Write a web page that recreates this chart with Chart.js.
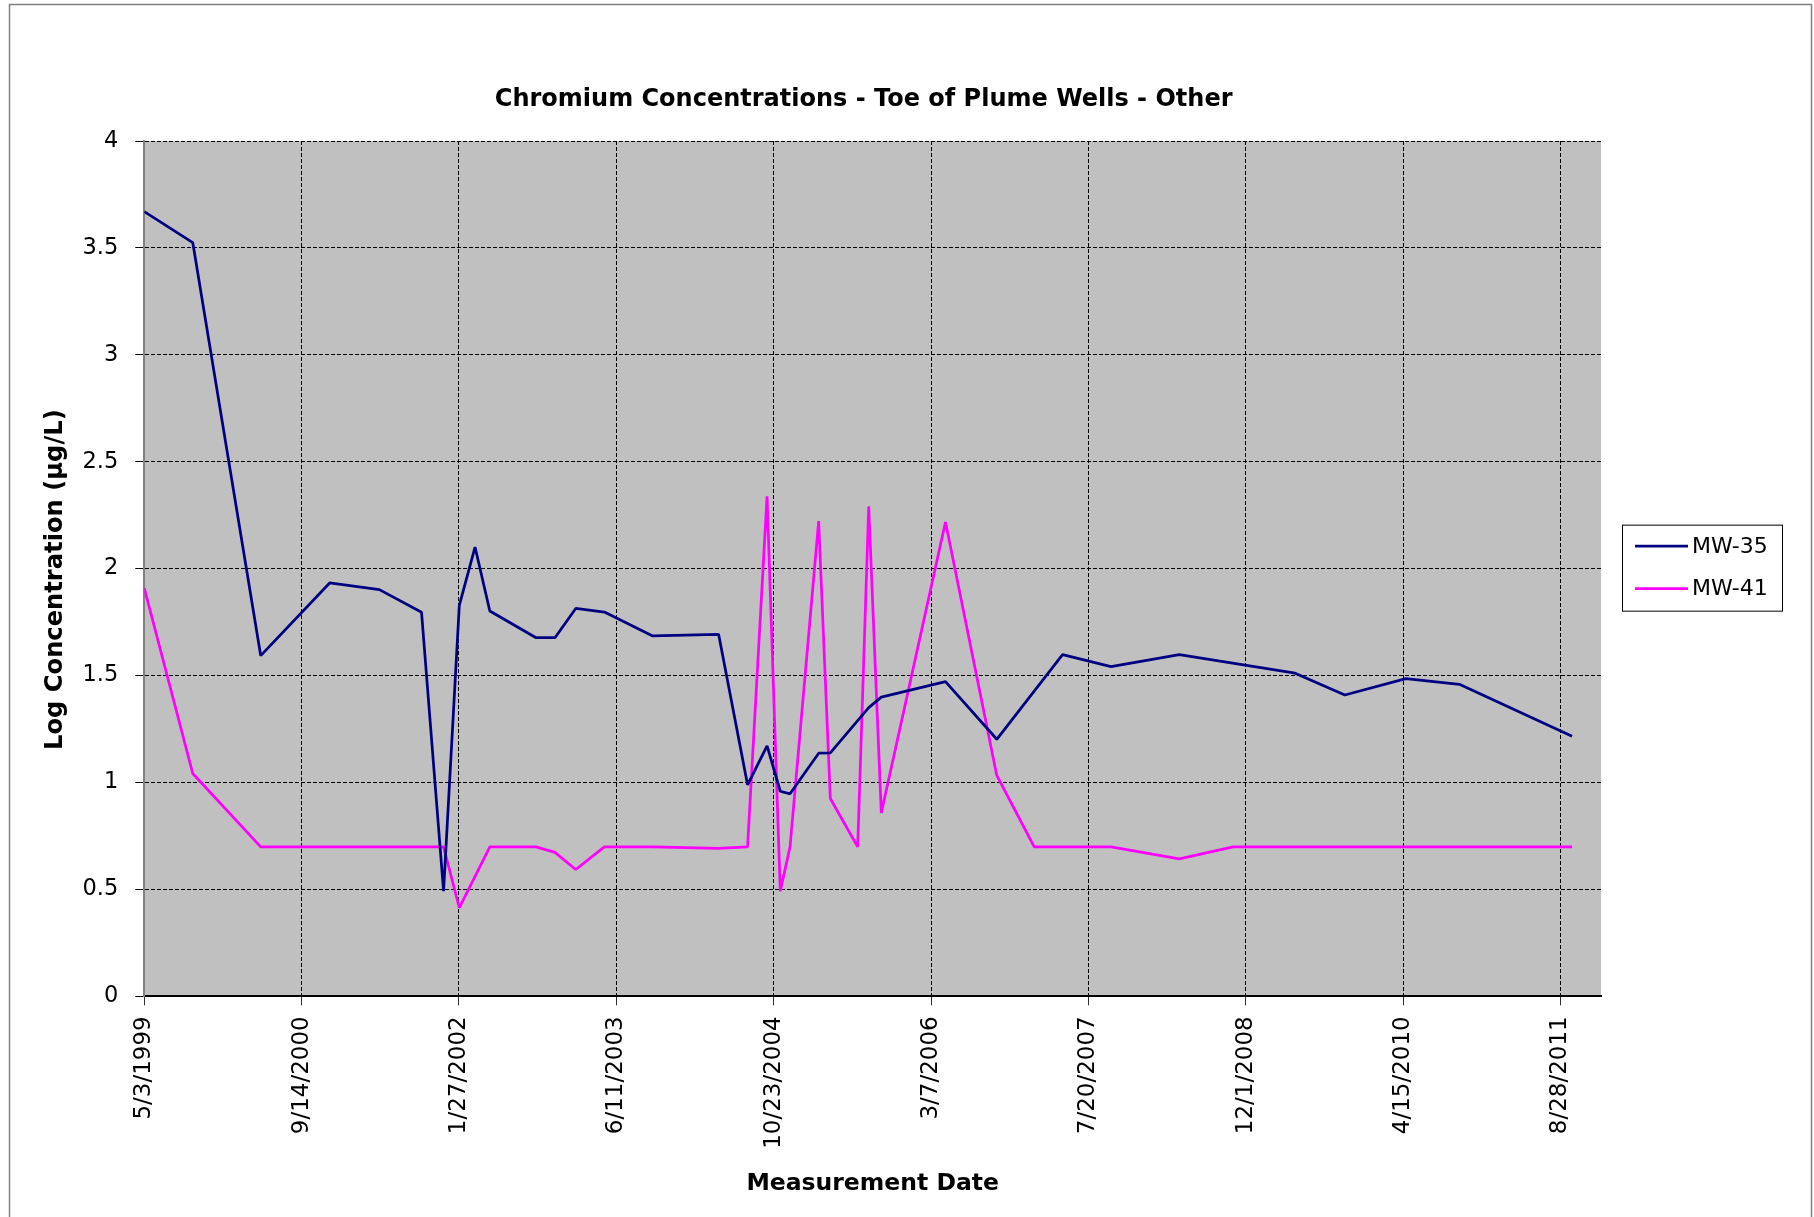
<!DOCTYPE html>
<html>
<head>
<meta charset="utf-8">
<title>Chromium Concentrations - Toe of Plume Wells - Other</title>
<script src="https://cdn.jsdelivr.net/npm/chart.js@4.4.1/dist/chart.umd.min.js"></script>
<style>
  html, body { margin: 0; padding: 0; background: #ffffff; }
  #wrap { position: relative; width: 1814px; height: 1217px; }
</style>
</head>
<body>
<div id="wrap"><canvas id="chart"></canvas></div>
<script>
// ---- Data -------------------------------------------------------------
const chartTitle = 'Chromium Concentrations - Toe of Plume Wells - Other';
const xAxisTitle = 'Measurement Date';
const yAxisTitle = 'Log Concentration (µg/L)';
const seriesNames = ['MW-35', 'MW-41'];

// Date axis tick labels (every 500 days) and the axis end date
const dateTicks = ['5/3/1999', '9/14/2000', '1/27/2002', '6/11/2003', '10/23/2004',
                   '3/7/2006', '7/20/2007', '12/1/2008', '4/15/2010', '8/28/2011'];
const xAxisEnd = '1/4/2012';
const yTicks = [0, 0.5, 1, 1.5, 2, 2.5, 3, 3.5, 4];

const mw35Dates = ['5/3/1999', '10/4/1999', '5/7/2000', '12/12/2000', '5/19/2001', '9/30/2001',
  '12/9/2001', '1/28/2002', '3/19/2002', '5/5/2002', '9/29/2002', '11/28/2002', '2/2/2003',
  '5/4/2003', '10/3/2003', '5/1/2004', '8/1/2004', '10/2/2004', '11/13/2004', '12/14/2004',
  '3/15/2005', '4/21/2005', '8/21/2005', '9/30/2005', '4/22/2006', '10/2/2006', '4/29/2007',
  '9/30/2007', '5/4/2008', '5/7/2009', '10/12/2009', '4/24/2010', '10/11/2010', '10/4/2011'];
const mw35Values = [3.67, 3.525, 1.593, 1.933, 1.902, 1.796,
  0.492, 1.828, 2.101, 1.802, 1.677, 1.677, 1.814,
  1.797, 1.686, 1.693, 0.989, 1.171, 0.959, 0.947,
  1.137, 1.138, 1.350, 1.399, 1.472, 1.202, 1.598,
  1.542, 1.598, 1.511, 1.409, 1.486, 1.459, 1.216];

const mw41Dates = ['5/3/1999', '10/4/1999', '5/7/2000', '12/12/2000', '5/19/2001', '9/30/2001',
  '12/9/2001', '1/28/2002', '5/5/2002', '9/29/2002', '11/28/2002', '2/2/2003', '5/4/2003',
  '10/3/2003', '5/1/2004', '8/1/2004', '10/2/2004', '11/13/2004', '12/14/2004', '3/15/2005',
  '4/21/2005', '7/17/2005', '8/21/2005', '9/30/2005', '4/22/2006', '10/2/2006', '1/29/2007',
  '4/29/2007', '9/30/2007', '5/4/2008', '10/22/2008', '5/7/2009', '10/12/2009', '4/24/2010',
  '10/11/2010', '10/4/2011'];
const mw41Values = [1.909, 1.042, 0.699, 0.699, 0.699, 0.699,
  0.699, 0.414, 0.699, 0.699, 0.673, 0.593, 0.699,
  0.699, 0.692, 0.699, 2.338, 0.492, 0.699, 2.222,
  0.925, 0.699, 2.291, 0.858, 2.218, 1.033, 0.699,
  0.699, 0.699, 0.643, 0.699, 0.699, 0.699, 0.699,
  0.699, 0.699];

const seriesColors = ['#000080', '#FF00FF'];

// ---- Helpers ----------------------------------------------------------
// Dates are placed on a linear axis counted in days from the first tick.
const mdyToUtcDays = s => {
  const [m, d, y] = s.split('/').map(Number);
  return Date.UTC(y, m - 1, d) / 864e5;
};
const originDay = mdyToUtcDays(dateTicks[0]);
const dayOf = s => mdyToUtcDays(s) - originDay;
const tickLabelByDay = {};
dateTicks.forEach(t => { tickLabelByDay[dayOf(t)] = t; });

const toPoints = (dates, values) => dates.map((d, i) => ({ x: dayOf(d), y: values[i] }));

const FONT = 'DejaVu Sans';

// Plot background fill and the outer chart frame
const frameAndBackground = {
  id: 'frameAndBackground',
  beforeDraw(chart) {
    const { ctx, chartArea: a } = chart;
    ctx.save();
    ctx.fillStyle = '#C0C0C0';
    ctx.fillRect(a.left, a.top, a.right - a.left, a.bottom - a.top);
    ctx.strokeStyle = '#808080';
    ctx.lineWidth = 1.5;
    ctx.strokeRect(9.5, 4.5, 1802, 1300);
    ctx.restore();
  }
};

// Title placement tweaks: the chart title sits slightly left of the plot centre,
// the vertical axis title slightly below it.
const titleOffsets = {
  id: 'titleOffsets',
  afterLayout(chart) {
    const t = chart.titleBlock;
    if (t) { t.left -= 9; t.right -= 9; }
    const y = chart.scales.y;
    if (y && !y._shiftedTitle) {
      const draw = y.drawTitle;
      y.drawTitle = function () {
        this.ctx.save();
        this.ctx.translate(0, 11);
        draw.call(this);
        this.ctx.restore();
      };
      y._shiftedTitle = true;
    }
  }
};

// Boxed legend to the right of the plot, vertically centred on it
const boxedLegend = {
  id: 'boxedLegend',
  afterDraw(chart) {
    const { ctx, chartArea: a } = chart;
    const mid = (a.top + a.bottom) / 2;
    const left = a.right + 21, top = mid - 44, w = 160, h = 86;
    ctx.save();
    ctx.fillStyle = '#ffffff';
    ctx.fillRect(left, top, w, h);
    ctx.strokeStyle = '#000000';
    ctx.lineWidth = 1;
    ctx.strokeRect(left + 0.5, top + 0.5, w, h);
    ctx.font = `22px "${FONT}"`;
    ctx.textBaseline = 'middle';
    ctx.textAlign = 'left';
    chart.data.datasets.forEach((ds, i) => {
      const y = top + 21.5 + i * 42.5;
      ctx.strokeStyle = ds.borderColor;
      ctx.lineWidth = 2.75;
      ctx.beginPath();
      ctx.moveTo(left + 13, y);
      ctx.lineTo(left + 66, y);
      ctx.stroke();
      ctx.fillStyle = '#000000';
      ctx.fillText(ds.label, left + 70, y + 1);
    });
    ctx.restore();
  }
};

const lineStyle = color => ({
  borderColor: color,
  backgroundColor: color,
  borderWidth: 2.75,
  borderJoinStyle: 'bevel',
  pointRadius: 0,
  pointHoverRadius: 0,
  tension: 0,
  fill: false
});

new Chart(document.getElementById('chart'), {
  type: 'line',
  data: {
    datasets: [
      { label: seriesNames[0], data: toPoints(mw35Dates, mw35Values), ...lineStyle(seriesColors[0]) },
      { label: seriesNames[1], data: toPoints(mw41Dates, mw41Values), ...lineStyle(seriesColors[1]) }
    ]
  },
  options: {
    responsive: true,
    maintainAspectRatio: false,
    animation: false,
    devicePixelRatio: 1,
    layout: { padding: { left: 0, right: 213, top: 0, bottom: 0 } },
    plugins: {
      legend: { display: false },
      tooltip: { enabled: false },
      title: {
        display: true,
        text: chartTitle,
        fullSize: false,
        color: '#000000',
        font: { family: FONT, size: 24, weight: 'bold', lineHeight: 1.2 },
        padding: { top: 85, bottom: 27.2 }
      }
    },
    scales: {
      x: {
        type: 'linear',
        min: 0,
        max: dayOf(xAxisEnd),
        afterBuildTicks: s => { s.ticks = dateTicks.map(t => ({ value: dayOf(t) })); },
        afterFit: s => { s.height = 220.7; },
        ticks: {
          autoSkip: false,
          minRotation: 90,
          maxRotation: 90,
          padding: 11,
          color: '#000000',
          font: { family: FONT, size: 23 },
          callback: v => tickLabelByDay[v] || ''
        },
        grid: { color: '#000000', lineWidth: 1, tickLength: 9, tickColor: '#303030' },
        border: { display: true, color: '#000000', width: 2, dash: [4, 2] },
        title: {
          display: true,
          text: xAxisTitle,
          color: '#000000',
          font: { family: FONT, size: 23.5, weight: 'bold', lineHeight: 1.2 },
          padding: { top: 0, bottom: 18.7 }
        }
      },
      y: {
        type: 'linear',
        min: yTicks[0],
        max: yTicks[yTicks.length - 1],
        afterBuildTicks: s => { s.ticks = yTicks.map(v => ({ value: v })); },
        afterFit: s => { s.width = 144.3; },
        ticks: {
          padding: 17,
          color: '#000000',
          font: { family: FONT, size: 22.5 },
          callback: v => String(v)
        },
        grid: { color: '#000000', lineWidth: 1, tickLength: 9, tickColor: '#000000' },
        border: { display: true, color: '#808080', width: 2, dash: [4, 2] },
        title: {
          display: true,
          text: yAxisTitle,
          color: '#000000',
          font: { family: FONT, size: 24.2, weight: 'bold', lineHeight: 1.2 },
          padding: { top: 40.8, bottom: 0 }
        }
      }
    }
  },
  plugins: [frameAndBackground, titleOffsets, boxedLegend]
});
</script>
</body>
</html>
